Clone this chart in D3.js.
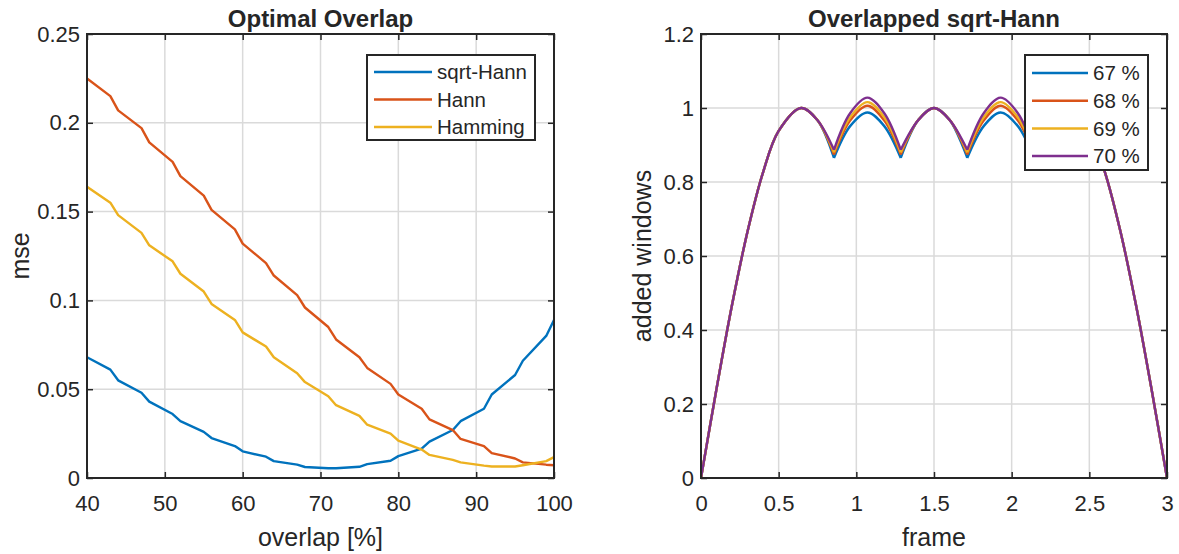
<!DOCTYPE html>
<html>
<head>
<meta charset="utf-8">
<script src="https://cdn.jsdelivr.net/npm/d3@7"></script>
<style>
  html, body { margin: 0; padding: 0; background: #fff; }
  svg { display: block; }
  text { font-family: "Liberation Sans", Arial, Helvetica, sans-serif; fill: #262626; }
</style>
</head>
<body>
<div id="chart"></div>
<script>
// ---------- Left panel data: Optimal Overlap ----------
const overlapPct = [40,43,44,47,48,51,52,55,56,59,60,63,64,67,68,71,72,75,76,79,80,83,84,87,88,91,92,95,96,99,100];
const mseSqrtHann = [0.068,0.061,0.055,0.048,0.043,0.036,0.032,0.026,0.0225,0.018,0.015,0.012,0.0095,0.0075,0.0062,0.0055,0.0055,0.0063,0.0078,0.0097,0.0123,0.0165,0.0205,0.027,0.032,0.039,0.047,0.058,0.066,0.080,0.089];
const mseHann = [0.225,0.215,0.207,0.197,0.189,0.178,0.170,0.159,0.151,0.140,0.132,0.121,0.114,0.103,0.096,0.085,0.078,0.068,0.062,0.053,0.047,0.039,0.033,0.027,0.022,0.018,0.014,0.011,0.0088,0.0075,0.0072];
const mseHamming = [0.164,0.155,0.148,0.138,0.131,0.122,0.115,0.105,0.098,0.089,0.082,0.074,0.068,0.059,0.054,0.046,0.041,0.035,0.030,0.025,0.021,0.016,0.013,0.0102,0.0088,0.007,0.0065,0.0065,0.0072,0.0095,0.0118];
const leftSeriesNames = ["sqrt-Hann", "Hann", "Hamming"];
const leftXTicks = [40,50,60,70,80,90,100];
const leftYTicks = [0,0.05,0.1,0.15,0.2,0.25];
const leftYTickLabels = ["0","0.05","0.1","0.15","0.2","0.25"];

// ---------- Right panel data: Overlapped sqrt-Hann ----------
const frames = [0,0.1,0.2,0.3,0.4,0.5,0.645,0.75,0.856,0.96,1.071,1.18,1.286,1.4,1.5,1.6,1.714,1.82,1.929,2.04,2.144,2.25,2.355,2.5,2.6,2.7,2.8,2.9,3.0];
const sum67 = [0,0.241,0.468,0.667,0.827,0.938,1.0,0.967,0.865,0.951,0.988,0.951,0.865,0.968,1.0,0.968,0.865,0.951,0.988,0.951,0.865,0.967,1.0,0.938,0.827,0.667,0.468,0.241,0];
const sum68 = [0,0.241,0.468,0.667,0.827,0.938,1.0,0.967,0.874,0.966,1.006,0.966,0.874,0.968,1.0,0.968,0.874,0.966,1.006,0.966,0.874,0.967,1.0,0.938,0.827,0.667,0.468,0.241,0];
const sum69 = [0,0.241,0.468,0.667,0.827,0.938,1.0,0.967,0.880,0.975,1.016,0.975,0.880,0.968,1.0,0.968,0.880,0.975,1.016,0.975,0.880,0.967,1.0,0.938,0.827,0.667,0.468,0.241,0];
const sum70 = [0,0.241,0.468,0.667,0.827,0.938,1.0,0.967,0.887,0.986,1.028,0.986,0.887,0.968,1.0,0.968,0.887,0.986,1.028,0.986,0.887,0.967,1.0,0.938,0.827,0.667,0.468,0.241,0];
const rightSeriesNames = ["67 %", "68 %", "69 %", "70 %"];
const rightXTicks = [0,0.5,1,1.5,2,2.5,3];
const rightXTickLabels = ["0","0.5","1","1.5","2","2.5","3"];
const rightYTicks = [0,0.2,0.4,0.6,0.8,1,1.2];
const rightYTickLabels = ["0","0.2","0.4","0.6","0.8","1","1.2"];

const colors = ["#0072BD", "#D95319", "#EDB120", "#7E2F8E"];

// ---------- Layout ----------
const W = 1179, H = 554;
const svg = d3.select("#chart").append("svg").attr("width", W).attr("height", H);
svg.append("rect").attr("width", W).attr("height", H).attr("fill", "#fff");

const axisColor = "#262626";
const gridColor = "#dadada";

function panel(opts) {
  const { x0, x1, y0, y1, xDomain, yDomain, xTicks, xLabels, yTicks, yLabels, title, xTitle, yTitle, yTitleX, id } = opts;
  const x = d3.scaleLinear().domain(xDomain).range([x0, x1]);
  const y = d3.scaleLinear().domain(yDomain).range([y1, y0]);
  const g = svg.append("g");

  // grid
  g.append("g").selectAll("line").data(xTicks).join("line")
    .attr("x1", d => x(d)).attr("x2", d => x(d)).attr("y1", y0).attr("y2", y1)
    .attr("stroke", gridColor).attr("stroke-width", 1.5);
  g.append("g").selectAll("line").data(yTicks).join("line")
    .attr("y1", d => y(d)).attr("y2", d => y(d)).attr("x1", x0).attr("x2", x1)
    .attr("stroke", gridColor).attr("stroke-width", 1.5);

  // clip
  svg.append("defs").append("clipPath").attr("id", id)
    .append("rect").attr("x", x0).attr("y", y0).attr("width", x1 - x0).attr("height", y1 - y0);

  // axes with d3 axis generators (ticks inward, on all four sides)
  const tl = 6;
  const bottom = g.append("g").attr("transform", `translate(0,${y1})`)
    .call(d3.axisBottom(x).tickValues(xTicks).tickFormat((d, i) => xLabels[i]).tickSize(-tl).tickPadding(17));
  const top = g.append("g").attr("transform", `translate(0,${y0})`)
    .call(d3.axisTop(x).tickValues(xTicks).tickFormat("").tickSize(-tl));
  const left = g.append("g").attr("transform", `translate(${x0},0)`)
    .call(d3.axisLeft(y).tickValues(yTicks).tickFormat((d, i) => yLabels[i]).tickSize(-tl).tickPadding(7));
  const right = g.append("g").attr("transform", `translate(${x1},0)`)
    .call(d3.axisRight(y).tickValues(yTicks).tickFormat("").tickSize(-tl));
  [bottom, top, left, right].forEach(a => {
    a.select(".domain").remove();
    a.selectAll(".tick line").attr("stroke", axisColor).attr("stroke-width", 1.5);
    a.selectAll("text").style("font-size", "22px").attr("fill", axisColor)
      .style("font-family", '"Liberation Sans", Arial, sans-serif');
  });

  // titles
  svg.append("text").attr("x", (x0 + x1) / 2).attr("y", 27).attr("text-anchor", "middle")
    .style("font-size", "24px").style("font-weight", "bold").attr("fill", "#000").text(title);
  svg.append("text").attr("x", (x0 + x1) / 2).attr("y", 546).attr("text-anchor", "middle")
    .style("font-size", "25px").text(xTitle);
  svg.append("text").attr("transform", `translate(${yTitleX},${(y0 + y1) / 2}) rotate(-90)`)
    .attr("text-anchor", "middle").style("font-size", "25px").text(yTitle);

  return { x, y, g, x0, x1, y0, y1, id };
}

function drawBox(p) {
  svg.append("rect").attr("x", p.x0).attr("y", p.y0).attr("width", p.x1 - p.x0).attr("height", p.y1 - p.y0)
    .attr("fill", "none").attr("stroke", axisColor).attr("stroke-width", 2);
}

function legend(items, box, rowY, lineX, textX) {
  const lg = svg.append("g");
  lg.append("rect").attr("x", box[0]).attr("y", box[1]).attr("width", box[2] - box[0]).attr("height", box[3] - box[1])
    .attr("fill", "#fff").attr("stroke", axisColor).attr("stroke-width", 2);
  items.forEach((name, i) => {
    const yy = rowY[0] + i * rowY[1];
    lg.append("line").attr("x1", lineX[0]).attr("x2", lineX[1]).attr("y1", yy).attr("y2", yy)
      .attr("stroke", colors[i]).attr("stroke-width", 2.5);
    lg.append("text").attr("x", textX).attr("y", yy).attr("dy", "0.36em")
      .style("font-size", "20.5px").attr("fill", "#000").text(name);
  });
}

// ---------- Left panel ----------
const L = panel({
  id: "clipL", x0: 87, x1: 554, y0: 34, y1: 478,
  xDomain: [40, 100], yDomain: [0, 0.25],
  xTicks: leftXTicks, xLabels: leftXTicks.map(String),
  yTicks: leftYTicks, yLabels: leftYTickLabels,
  title: "Optimal Overlap", xTitle: "overlap [%]", yTitle: "mse", yTitleX: 29
});
const leftSeries = [mseSqrtHann, mseHann, mseHamming];
const lineL = d3.line().x((d, i) => L.x(overlapPct[i])).y(d => L.y(d));
svg.append("g").attr("clip-path", "url(#clipL)").selectAll("path").data(leftSeries).join("path")
  .attr("d", d => lineL(d)).attr("fill", "none")
  .attr("stroke", (d, i) => colors[i]).attr("stroke-width", 2.4).attr("stroke-linejoin", "round");
drawBox(L);
legend(leftSeriesNames, [367, 55, 535, 140], [72, 27.5], [374, 432], 437);

// ---------- Right panel ----------
const R = panel({
  id: "clipR", x0: 701, x1: 1167, y0: 34, y1: 478,
  xDomain: [0, 3], yDomain: [0, 1.2],
  xTicks: rightXTicks, xLabels: rightXTickLabels,
  yTicks: rightYTicks, yLabels: rightYTickLabels,
  title: "Overlapped sqrt-Hann", xTitle: "frame", yTitle: "added windows", yTitleX: 651
});
const rightSeries = [sum67, sum68, sum69, sum70];
// split each series at its cusps (interior local minima) and draw smooth arcs between them
function pieces(vals) {
  const cuts = [0];
  for (let i = 1; i < vals.length - 1; i++) {
    if (vals[i] < vals[i - 1] && vals[i] < vals[i + 1]) cuts.push(i);
  }
  cuts.push(vals.length - 1);
  const out = [];
  for (let k = 0; k < cuts.length - 1; k++) {
    const seg = [];
    for (let i = cuts[k]; i <= cuts[k + 1]; i++) seg.push([frames[i], vals[i]]);
    out.push(seg);
  }
  return out;
}
const lineR = d3.line().x(d => R.x(d[0])).y(d => R.y(d[1])).curve(d3.curveCatmullRom.alpha(0.5));
const gR = svg.append("g").attr("clip-path", "url(#clipR)");
rightSeries.forEach((vals, i) => {
  const d = pieces(vals).map(seg => lineR(seg)).join("");
  gR.append("path").attr("d", d).attr("fill", "none")
    .attr("stroke", colors[i]).attr("stroke-width", 2.4).attr("stroke-linejoin", "miter");
});
drawBox(R);
legend(rightSeriesNames, [1025, 55, 1148, 170], [73, 27.7], [1032, 1088], 1093);
</script>
</body>
</html>
